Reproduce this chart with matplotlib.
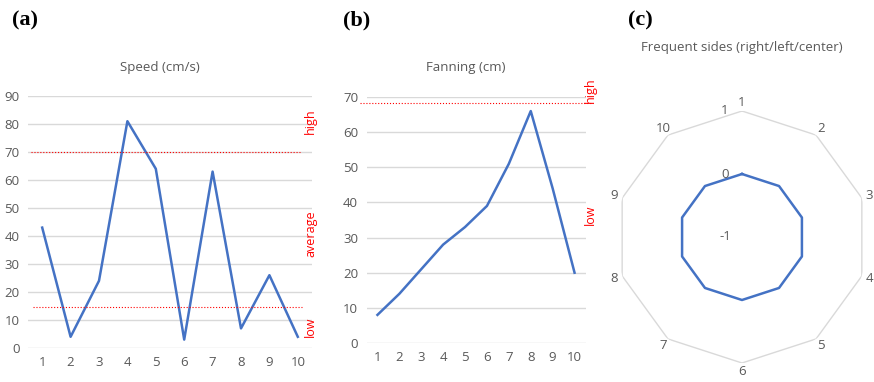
import numpy as np
import matplotlib.pyplot as plt

plt.rcParams['font.family'] = ['Open Sans', 'DejaVu Sans']

trials = [1, 2, 3, 4, 5, 6, 7, 8, 9, 10]
speed = [43, 4, 24, 81, 64, 3, 63, 7, 26, 4]
fanning = [8, 14, 21, 28, 33, 39, 51, 66, 44, 20]
sides = [0, 0, 0, 0, 0, 0, 0, 0, 0, 0]

speed_high, speed_low = 70, 14.5
fan_high = 68.3

blue = '#4472C4'
grey = '#595959'
grid = '#d9d9d9'
red = '#FF0000'

W, H = 874, 382
fig = plt.figure(figsize=(W / 100, H / 100), dpi=100)


def box(x0, y0, x1, y1):
    return [x0 / W, 1 - y1 / H, (x1 - x0) / W, (y1 - y0) / H]


def style(ax, yticks):
    ax.set_xlim(0.5, 10.5)
    ax.set_xticks(trials)
    ax.set_yticks(yticks)
    ax.grid(axis='y', color=grid, lw=1)
    ax.set_axisbelow(True)
    for s in ax.spines.values():
        s.set_visible(False)
    ax.tick_params(length=0, colors=grey, labelsize=9.5, pad=6)


# (a) speed
ax1 = fig.add_axes(box(28, 96, 312, 348))
ax1.set_ylim(0, 90)
style(ax1, range(0, 91, 10))
ax1.plot(trials, speed, color=blue, lw=1.8)
ax1.plot([0.6, 10.08], [speed_high, speed_high], color=red, lw=0.8, ls=':', clip_on=False)
ax1.plot([0.68, 10.15], [speed_low, speed_low], color=red, lw=0.8, ls=':', clip_on=False)
for lab, yv in [('high', 81), ('average', 41), ('low', 7.5)]:
    ax1.text(10.45, yv, lab, color=red, rotation=90, fontsize=9, ha='center', va='center', clip_on=False)
fig.text(160 / W, 1 - 67 / H, 'Speed (cm/s)', ha='center', va='center', color=grey, fontsize=9.5)

# (b) fanning
ax2 = fig.add_axes(box(366.5, 97, 585.5, 343))
ax2.set_ylim(0, 70)
style(ax2, range(0, 71, 10))
ax2.plot(trials, fanning, color=blue, lw=1.8)
ax2.plot([0.2, 10.84], [fan_high, fan_high], color=red, lw=0.8, ls=':', clip_on=False)
for lab, yv in [('high', 72), ('low', 36.5)]:
    ax2.text(10.7, yv, lab, color=red, rotation=90, fontsize=9, ha='center', va='center', clip_on=False)
fig.text(466 / W, 1 - 67 / H, 'Fanning (cm)', ha='center', va='center', color=grey, fontsize=9.5)

# (c) radar
ax3 = fig.add_axes(box(742 - 126, 237 - 126, 742 + 126, 237 + 126), projection='polar')
ax3.set_theta_zero_location('N')
ax3.set_theta_direction(-1)
ax3.set_ylim(-1, 1)
ax3.grid(False)
ax3.set_xticks([])
ax3.set_yticks([])
ax3.spines['polar'].set_visible(False)
theta = np.linspace(0, 2 * np.pi, len(trials), endpoint=False)
tc = np.append(theta, theta[0])
ax3.plot(tc, np.ones(len(tc)), color=grid, lw=1)
ax3.plot(tc, np.append(sides, sides[0]), color=blue, lw=1.8)
for t, lab in zip(theta, trials):
    ax3.text(t, 1.13, str(lab), color=grey, fontsize=9.5, ha='center', va='center', clip_on=False)
for rv in [1, 0, -1]:
    ax3.annotate(str(rv), (0, rv), xytext=(-17, 0), textcoords='offset pixels',
                 color=grey, fontsize=9.5, ha='center', va='center')
fig.text(742 / W, 1 - 47 / H, 'Frequent sides (right/left/center)', ha='center', va='center',
         color=grey, fontsize=9.5)

for x, lab in [(25, '(a)'), (357, '(b)'), (640, '(c)')]:
    fig.text(x / W, 1 - 20 / H, lab, ha='center', va='center', fontsize=16,
             fontweight='bold', family='Liberation Serif')

fig.savefig('out.png', dpi=100)
